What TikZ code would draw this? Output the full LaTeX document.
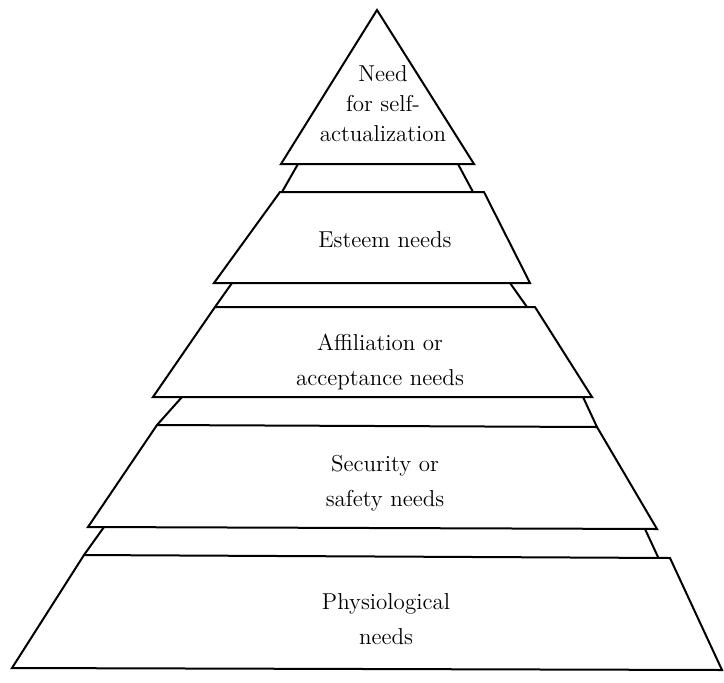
\documentclass[tikz,border=0pt]{standalone}
\begin{document}
\begin{tikzpicture}[x=0.5pt,y=-0.5pt,
  tier/.style={draw=black,line width=1pt,line join=miter},
  side/.style={draw=black,line width=1pt},
  lbl/.style={align=center,font=\fontsize{11.5}{17.5}\selectfont,inner sep=0pt}]
\useasboundingbox[fill=white] (0,0) rectangle (724,682);
% tier 1 (triangle)
\coordinate (apex) at (377,10);
\coordinate (t1bl) at (281,164); \coordinate (t1br) at (474,164);
% tier 2
\coordinate (t2tl) at (280,192); \coordinate (t2tr) at (484,192);
\coordinate (t2bl) at (214,283); \coordinate (t2br) at (530,283);
% tier 3
\coordinate (t3tl) at (215,307); \coordinate (t3tr) at (535,307);
\coordinate (t3bl) at (153,397); \coordinate (t3br) at (592,397);
% tier 4
\coordinate (t4tl) at (157,425); \coordinate (t4tr) at (597,427);
\coordinate (t4bl) at (88,527); \coordinate (t4br) at (657,529);
% tier 5
\coordinate (t5tl) at (84,555); \coordinate (t5tr) at (670,558);
\coordinate (t5bl) at (12,668); \coordinate (t5br) at (722,670);
% band corners
\coordinate (b1tl) at (298,164); \coordinate (b1tr) at (458,164);
\coordinate (b1bl) at (282,192); \coordinate (b1br) at (473,192);
\coordinate (b2tl) at (232,283); \coordinate (b2tr) at (510,283);
\coordinate (b2bl) at (215,307); \coordinate (b2br) at (527,307);
\coordinate (b3tl) at (182,397); \coordinate (b3tr) at (583,397);
\coordinate (b3bl) at (157,425); \coordinate (b3br) at (597,427);
\coordinate (b4tl) at (104,527); \coordinate (b4tr) at (645,529);
\coordinate (b4bl) at (84,555); \coordinate (b4br) at (658,557);

\draw[tier] (apex) -- (t1br) -- (t1bl) -- cycle;
\draw[tier] (t2tl) -- (t2tr) -- (t2br) -- (t2bl) -- cycle;
\draw[tier] (t3tl) -- (t3tr) -- (t3br) -- (t3bl) -- cycle;
\draw[tier] (t4tl) -- (t4tr) -- (t4br) -- (t4bl) -- cycle;
\draw[tier] (t5tl) -- (t5tr) -- (t5br) -- (t5bl) -- cycle;

\draw[side] (b1tl) -- (b1bl); \draw[side] (b1tr) -- (b1br);
\draw[side] (b2tl) -- (b2bl); \draw[side] (b2tr) -- (b2br);
\draw[side] (b3tl) -- (b3bl); \draw[side] (b3tr) -- (b3br);
\draw[side] (b4tl) -- (b4bl); \draw[side] (b4tr) -- (b4br);

\node[lbl,font=\fontsize{11.5}{15}\selectfont] (n1) at (383,104) {Need\\for self-\\actualization};
\node[lbl] (n2) at (385,240) {Esteem needs};
\node[lbl] (n3) at (380,362) {Affiliation or\\acceptance needs};
\node[lbl] (n4) at (385,483) {Security or\\safety needs};
\node[lbl] (n5) at (386,619) {Physiological\\needs};
\end{tikzpicture}
\end{document}
